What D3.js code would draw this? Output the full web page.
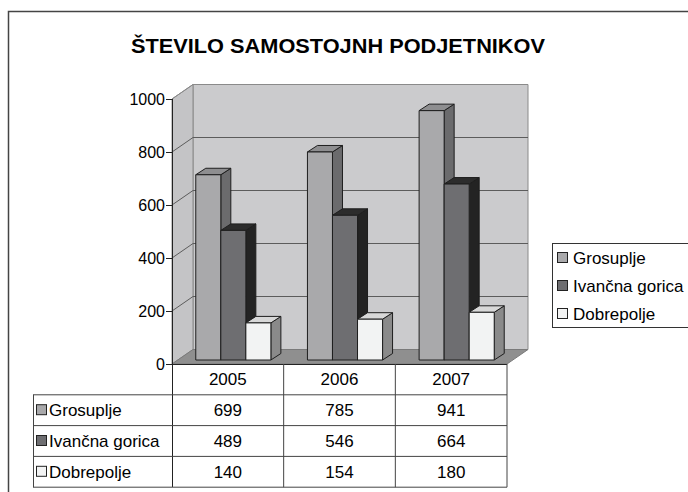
<!DOCTYPE html>
<html>
<head>
<meta charset="utf-8">
<script src="https://cdn.jsdelivr.net/npm/d3@7/dist/d3.min.js"></script>
<style>
  body { margin: 0; background: #fff; }
  svg { display: block; font-family: "Liberation Sans", Arial, sans-serif; }
</style>
</head>
<body>
<script>
// data
var categories = ["2005", "2006", "2007"];
var seriesNames = ["Grosuplje", "Ivančna gorica", "Dobrepolje"];
var grosuplje = [699, 785, 941];
var ivancna = [489, 546, 664];
var dobrepolje = [140, 154, 180];
var yTicks = [0, 200, 400, 600, 800, 1000];
var titleText = "ŠTEVILO SAMOSTOJNH PODJETNIKOV";

var seriesValues = [grosuplje, ivancna, dobrepolje];
// front, side, top shades per series
var shades = [
  { front: "#a9a9ab", side: "#6b6b6d", top: "#8e8e90" },
  { front: "#6e6e71", side: "#232323", top: "#2c2c2c" },
  { front: "#f2f3f3", side: "#8a8a8a", top: "#d8d8d8" }
];

var W = 688, H = 492;
var svg = d3.select("body").append("svg")
    .attr("width", W)
    .attr("height", H);

// outer chart border (only left and top visible)
svg.append("path")
    .attr("d", "M8.5,492 L8.5,11.5 L688,11.5")
    .attr("fill", "none")
    .attr("stroke", "#444")
    .attr("stroke-width", 1.5);

svg.append("text")
    .attr("x", 338)
    .attr("y", 53)
    .attr("text-anchor", "middle")
    .style("font-size", "20px")
    .style("font-weight", "bold")
    .attr("textLength", 414)
    .attr("lengthAdjust", "spacingAndGlyphs")
    .text(titleText);

// scales
var x = d3.scaleBand().domain(categories).range([172, 507]);
var xs = d3.scaleBand().domain(seriesNames).range([0, x.bandwidth()]).paddingOuter(0.73);
var y = d3.scaleLinear().domain([0, 1000]).range([364, 99]);

var wall = { dx: 21, dy: -14.5 };     // depth of plot box
var bd = { dx: 10, dy: -6.5 };        // depth of a bar
var boff = { dx: 5.5, dy: -4 };       // bar offset into the box

function pts(a) { return a.map(function (p) { return p.join(","); }).join(" "); }

var x0 = x.range()[0], x1 = x.range()[1];
var yTop = y(1000), yBot = y(0);

// back wall
svg.append("polygon")
    .attr("points", pts([[x0 + wall.dx, yTop + wall.dy], [x1 + wall.dx, yTop + wall.dy],
        [x1 + wall.dx, yBot + wall.dy], [x0 + wall.dx, yBot + wall.dy]]))
    .attr("fill", "#cbcbcd")
    .attr("stroke", "#8a8a8a");
// side wall
svg.append("polygon")
    .attr("points", pts([[x0, yTop], [x0 + wall.dx, yTop + wall.dy],
        [x0 + wall.dx, yBot + wall.dy], [x0, yBot]]))
    .attr("fill", "#c4c4c6")
    .attr("stroke", "#8a8a8a");

// gridlines
var grid = svg.append("g").attr("fill", "none");
yTicks.filter(function (t) { return t > 0; }).forEach(function (t) {
  grid.append("polyline")
      .attr("points", pts([[x0, y(t)], [x0 + wall.dx, y(t) + wall.dy], [x1 + wall.dx, y(t) + wall.dy]]))
      .attr("stroke", t === 1000 ? "#8a8a8a" : "#5c5c5c");
});

// floor
svg.append("polygon")
    .attr("points", pts([[x0, yBot], [x1, yBot], [x1 + wall.dx, yBot + wall.dy], [x0 + wall.dx, yBot + wall.dy]]))
    .attr("fill", "#8f8f8f")
    .attr("stroke", "#7a7a7a");

// bars
var bars = svg.append("g").attr("stroke", "#1e1e1e").attr("stroke-width", 1).attr("stroke-linejoin", "round");
categories.forEach(function (c, ci) {
  seriesNames.forEach(function (s, si) {
    var v = seriesValues[si][ci];
    var l = x(c) + xs(s) + boff.dx;
    var r = l + xs.bandwidth();
    var t = y(v) + boff.dy;
    var b = y(0) + boff.dy;
    var sh = shades[si];
    bars.append("polygon")
        .attr("points", pts([[r, t], [r + bd.dx, t + bd.dy], [r + bd.dx, b + bd.dy], [r, b]]))
        .attr("fill", sh.side);
    bars.append("polygon")
        .attr("points", pts([[l, t], [l + bd.dx, t + bd.dy], [r + bd.dx, t + bd.dy], [r, t]]))
        .attr("fill", sh.top);
    bars.append("rect")
        .attr("x", l).attr("y", t)
        .attr("width", r - l).attr("height", b - t)
        .attr("fill", sh.front);
  });
});

// y axis
var yAxis = d3.axisLeft(y).tickValues(yTicks).tickSize(6).tickFormat(d3.format("d"));
var ya = svg.append("g").attr("transform", "translate(" + x0 + ",0)").call(yAxis);
ya.select(".domain").remove();
ya.selectAll(".tick line").attr("stroke", "#222");
ya.selectAll(".tick text")
    .attr("x", -7)
    .style("font-size", "16px")
    .style("font-family", "'Liberation Sans', Arial, sans-serif")
    .attr("fill", "#000");

// axis lines
svg.append("line").attr("x1", x0 + 0.5).attr("x2", x0 + 0.5).attr("y1", yTop).attr("y2", 487)
    .attr("stroke", "#222");
svg.append("line").attr("x1", x0).attr("x2", x1).attr("y1", yBot + 0.5).attr("y2", yBot + 0.5)
    .attr("stroke", "#222");

// data table
var rowH = 30.8;
var tableLeft = 33;
var tbl = svg.append("g").attr("stroke", "#444").attr("fill", "none");
categories.forEach(function (c) {
  var xr = x(c) + x.bandwidth();
  tbl.append("line").attr("x1", xr).attr("x2", xr).attr("y1", yBot).attr("y2", yBot + rowH * 4);
});
for (var r = 1; r <= 4; r++) {
  tbl.append("line").attr("x1", tableLeft).attr("x2", x1)
      .attr("y1", yBot + rowH * r).attr("y2", yBot + rowH * r);
}
tbl.append("line").attr("x1", tableLeft + 0.5).attr("x2", tableLeft + 0.5)
    .attr("y1", yBot + rowH).attr("y2", yBot + rowH * 4);

var tt = svg.append("g").style("font-size", "17px").attr("fill", "#000");
categories.forEach(function (c) {
  tt.append("text")
      .attr("x", x(c) + x.bandwidth() / 2)
      .attr("y", yBot + rowH / 2 + 6)
      .attr("text-anchor", "middle")
      .text(c);
});
seriesNames.forEach(function (s, si) {
  var cy = yBot + rowH * (si + 1) + rowH / 2;
  svg.append("rect")
      .attr("x", 36.5).attr("y", cy - 5.5)
      .attr("width", 10).attr("height", 10)
      .attr("fill", shades[si].front)
      .attr("stroke", "#222");
  tt.append("text").attr("x", 49).attr("y", cy + 6).text(s);
  categories.forEach(function (c, ci) {
    tt.append("text")
        .attr("x", x(c) + x.bandwidth() / 2)
        .attr("y", cy + 6)
        .attr("text-anchor", "middle")
        .text(seriesValues[si][ci]);
  });
});

// legend
var lg = svg.append("g").attr("transform", "translate(552,243)");
lg.append("rect")
    .attr("x", 0.5).attr("y", 0.5)
    .attr("width", 150).attr("height", 84)
    .attr("fill", "#fff")
    .attr("stroke", "#333");
seriesNames.forEach(function (s, i) {
  var cy = 15 + i * 28;
  lg.append("rect")
      .attr("x", 5.5).attr("y", cy - 5.5)
      .attr("width", 10).attr("height", 10)
      .attr("fill", shades[i].front)
      .attr("stroke", "#222");
  lg.append("text")
      .attr("x", 21).attr("y", cy + 6)
      .style("font-size", "17px")
      .text(s);
});
</script>
</body>
</html>
